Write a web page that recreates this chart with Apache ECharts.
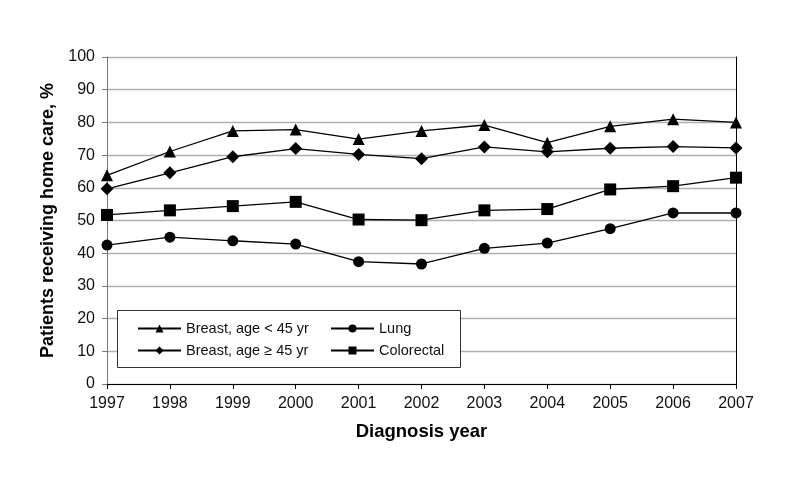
<!DOCTYPE html>
<html><head><meta charset="utf-8">
<script src="https://cdn.jsdelivr.net/npm/echarts@6/dist/echarts.min.js"></script>
<style>html,body{margin:0;padding:0;background:#fff}#c{width:787px;height:484px}</style>
</head><body><div id="c"></div>
<script>
const years = ['1997','1998','1999','2000','2001','2002','2003','2004','2005','2006','2007'];
const breastYoung = [63.8, 71.1, 77.4, 77.8, 74.9, 77.4, 79.2, 73.8, 78.8, 81.0, 80.0];
const breastOld   = [59.7, 64.6, 69.5, 72.0, 70.2, 68.9, 72.5, 71.0, 72.1, 72.6, 72.2];
const lung        = [42.5, 44.9, 43.8, 42.8, 37.4, 36.7, 41.5, 43.1, 47.5, 52.3, 52.3];
const colorectal  = [51.7, 53.1, 54.4, 55.7, 50.3, 50.1, 53.1, 53.5, 59.5, 60.5, 63.1];
const yTicks = [0,10,20,30,40,50,60,70,80,90,100];

const FONT = '"Liberation Sans", Arial, Helvetica, sans-serif';
const chart = echarts.init(document.getElementById('c'), null, {renderer:'canvas'});
function mk(name, data, symbol, size){
  return {name, type:'line', data, symbol, symbolSize:size,
    lineStyle:{color:'#000', width:1.3}, itemStyle:{color:'#000'},
    showAllSymbol:true, animation:false, z:3};
}
const legendCommon = {orient:'vertical', itemWidth:43, itemHeight:10, itemGap:7, z:30,
  textStyle:{fontFamily:FONT, fontSize:14.5, color:'#111'}, selectedMode:false};
chart.setOption({
  animation:false,
  grid:{left:107, right:51, top:57, bottom:100},
  xAxis:{type:'category', data:years, boundaryGap:false,
    axisLine:{lineStyle:{color:'#000', width:1}},
    axisTick:{show:true, inside:false, length:5, lineStyle:{color:'#000'}},
    axisLabel:{fontFamily:FONT, fontSize:16, color:'#111', margin:12},
    name:'Diagnosis year', nameLocation:'middle', nameGap:38,
    nameTextStyle:{fontFamily:FONT, fontSize:18.5, fontWeight:'bold', color:'#000'}},
  yAxis:[{type:'value', min:yTicks[0], max:yTicks[yTicks.length-1], interval:10,
    axisLine:{show:true, lineStyle:{color:'#777', width:1}},
    axisTick:{show:true, length:5, lineStyle:{color:'#777'}},
    axisLabel:{fontFamily:FONT, fontSize:16, color:'#111', margin:12},
    splitLine:{show:true, lineStyle:{color:'#b0b0b0', width:1.3}},
    name:'Patients receiving home care, %', nameLocation:'middle', nameGap:44,
    nameTextStyle:{fontFamily:FONT, fontSize:18, fontWeight:'bold', color:'#000'}},
   {type:'value', min:0, max:100, interval:10, position:'right',
    axisLine:{show:true, lineStyle:{color:'#000', width:1}},
    axisTick:{show:false}, axisLabel:{show:false}, splitLine:{show:false}}],
  legend:[
    Object.assign({left:132, top:316, data:['Breast, age < 45 yr','Breast, age \u2265 45 yr']}, legendCommon),
    Object.assign({left:325, top:316, data:['Lung','Colorectal']}, legendCommon)
  ],
  graphic:[{type:'rect', shape:{x:117.5, y:310.5, width:343, height:57},
    style:{fill:'#fff', stroke:'#333', lineWidth:1}, z:5}],
  series:[
    mk('Breast, age < 45 yr', breastYoung, 'triangle', 12),
    mk('Breast, age \u2265 45 yr', breastOld, 'diamond', 13),
    mk('Lung', lung, 'circle', 11),
    mk('Colorectal', colorectal, 'rect', 12)
  ]
});
</script></body></html>
